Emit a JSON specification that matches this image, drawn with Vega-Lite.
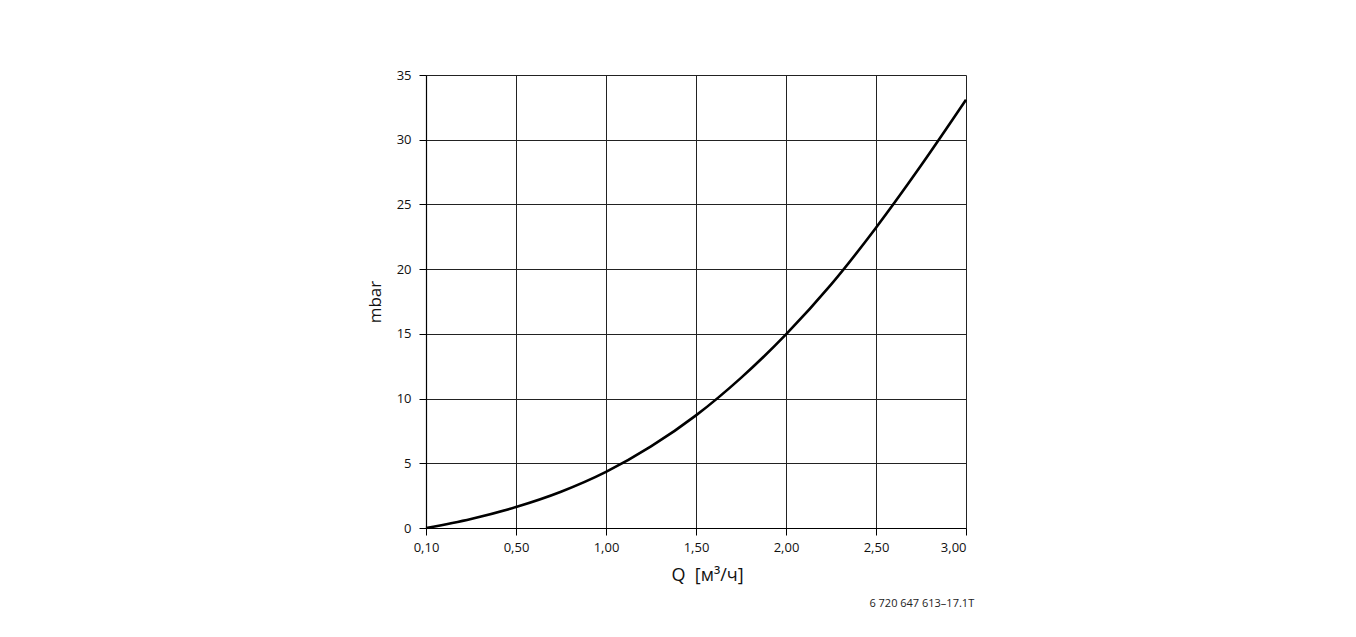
{
  "$schema": "https://vega.github.io/schema/vega-lite/v6.json",
  "width": 540,
  "height": 453,
  "autosize": "none",
  "padding": {"left": 426, "top": 75, "right": 390, "bottom": 109},
  "background": "white",
  "title": {
    "text": "6 720 647 613–17.1T",
    "orient": "bottom",
    "anchor": "end",
    "font": "Open Sans",
    "fontSize": 11,
    "fontWeight": "normal",
    "color": "#222",
    "offset": 14,
    "dx": 3
  },
  "data": {
    "values": [
      {"Q": 0.0, "mbar": 0.0},
      {"Q": 0.25, "mbar": 0.7},
      {"Q": 0.5, "mbar": 1.62},
      {"Q": 0.75, "mbar": 2.8},
      {"Q": 1.0, "mbar": 4.33},
      {"Q": 1.25, "mbar": 6.3},
      {"Q": 1.5, "mbar": 8.7},
      {"Q": 1.75, "mbar": 11.6},
      {"Q": 2.0, "mbar": 14.96},
      {"Q": 2.25, "mbar": 18.8},
      {"Q": 2.5, "mbar": 23.2},
      {"Q": 2.75, "mbar": 28.0},
      {"Q": 3.0, "mbar": 33.08}
    ]
  },
  "mark": {"type": "line", "color": "black", "strokeWidth": 2.6, "interpolate": "monotone", "clip": false},
  "encoding": {
    "x": {
      "field": "Q",
      "type": "quantitative",
      "scale": {"domain": [0, 3], "nice": false, "zero": false},
      "axis": {
        "values": [0, 0.5, 1, 1.5, 2, 2.5, 3],
        "labelExpr": "datum.value === 0 ? '0,10' : replace(format(datum.value, '.2f'), '.', ',')",
        "labelAlign": {"condition": {"test": "datum.value === 3", "value": "right"}, "value": "center"},
        "title": "Q\u00a0\u00a0[м³/ч]",
        "titleFontSize": 18,
        "titleX": 281,
        "titlePadding": 12
      }
    },
    "y": {
      "field": "mbar",
      "type": "quantitative",
      "scale": {"domain": [0, 35], "nice": false},
      "axis": {
        "values": [0, 5, 10, 15, 20, 25, 30, 35],
        "title": "mbar",
        "titlePadding": 12
      }
    }
  },
  "config": {
    "view": {"stroke": null},
    "axis": {
      "labelFont": "Open Sans",
      "labelFontSize": 13,
      "labelColor": "#111",
      "titleFont": "Open Sans",
      "titleFontSize": 17,
      "titleFontWeight": "normal",
      "titleColor": "#111",
      "domainColor": "black",
      "domainWidth": 1.2,
      "tickColor": "black",
      "tickWidth": 1,
      "tickSize": 7,
      "labelPadding": 6,
      "gridColor": "#222",
      "gridWidth": 1,
      "gridOpacity": 1,
      "grid": true
    },
    "axisY": {"labelPadding": 8}
  }
}
